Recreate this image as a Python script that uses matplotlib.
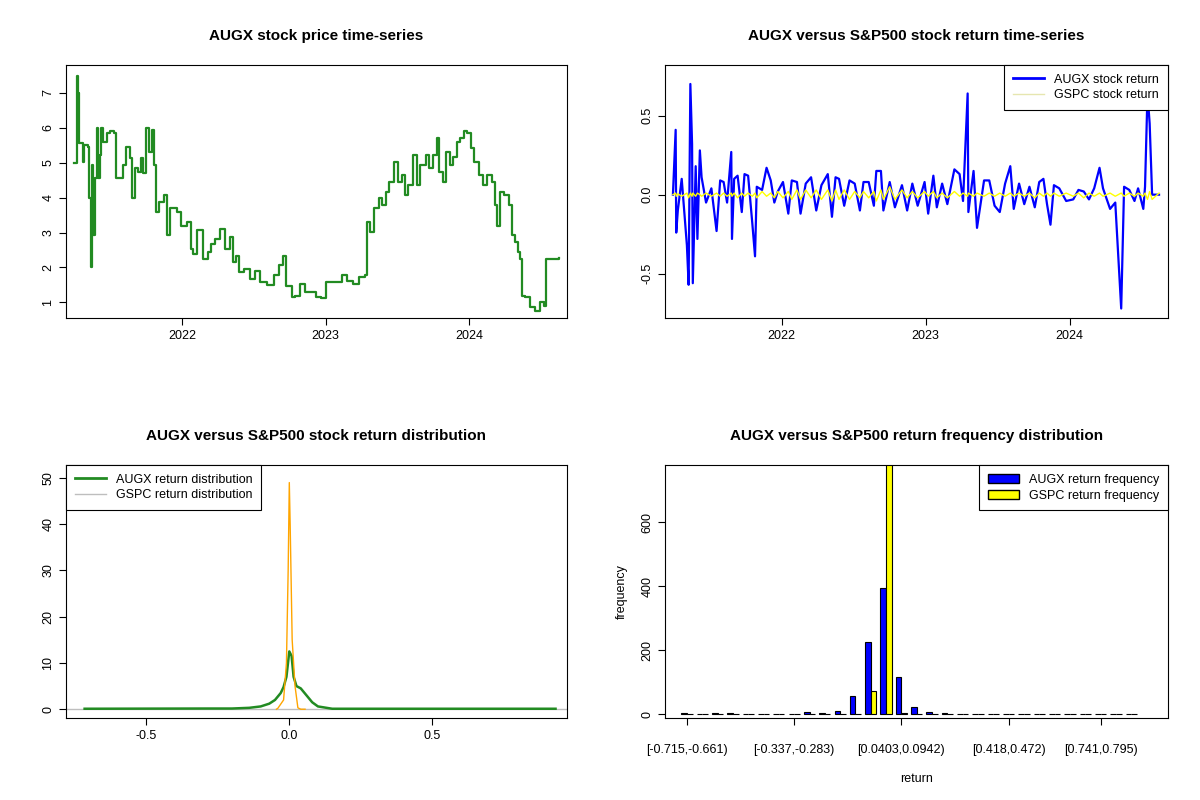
import matplotlib
matplotlib.use("Agg")
import matplotlib.pyplot as plt
import matplotlib.dates as mdates
import numpy as np
import pandas as pd
from matplotlib.patches import Patch
from matplotlib.lines import Line2D

plt.rcParams['font.family'] = ['Liberation Sans', 'DejaVu Sans']

# ---- data ----
price_t = [2021.245, 2021.264, 2021.274, 2021.279, 2021.306, 2021.318, 2021.342, 2021.347, 2021.361, 2021.371,
           2021.381, 2021.391, 2021.403, 2021.415, 2021.427, 2021.434, 2021.451, 2021.475, 2021.500, 2021.524,
           2021.541, 2021.573, 2021.585, 2021.609, 2021.633, 2021.650, 2021.670, 2021.694, 2021.711, 2021.725,
           2021.750, 2021.767, 2021.786, 2021.803, 2021.818, 2021.840, 2021.871, 2021.893, 2021.912, 2021.937,
           2021.961, 2021.992, 2022.034, 2022.058, 2022.075, 2022.106, 2022.143, 2022.179, 2022.204, 2022.228,
           2022.264, 2022.301, 2022.330, 2022.354, 2022.378, 2022.398, 2022.434, 2022.471, 2022.507, 2022.543,
           2022.592, 2022.640, 2022.677, 2022.701, 2022.725, 2022.762, 2022.786, 2022.822, 2022.859, 2022.895,
           2022.932, 2022.968, 2023.000, 2023.041, 2023.077, 2023.114, 2023.150, 2023.191, 2023.235, 2023.271,
           2023.291, 2023.308, 2023.337, 2023.369, 2023.393, 2023.417, 2023.441, 2023.478, 2023.502, 2023.531,
           2023.551, 2023.575, 2023.611, 2023.635, 2023.660, 2023.696, 2023.720, 2023.745, 2023.774, 2023.793,
           2023.817, 2023.842, 2023.866, 2023.890, 2023.915, 2023.939, 2023.963, 2023.987, 2024.012, 2024.036,
           2024.065, 2024.097, 2024.121, 2024.157, 2024.177, 2024.194, 2024.211, 2024.242, 2024.279, 2024.298,
           2024.322, 2024.339, 2024.356, 2024.364, 2024.388, 2024.424, 2024.456, 2024.492, 2024.521, 2024.533,
           2024.582, 2024.623]
price = [5.0, 7.48, 7.0, 5.56, 5.03, 5.5, 5.46, 3.98, 2.0, 4.93,
         2.92, 4.55, 6.0, 4.55, 5.22, 6.0, 5.6, 5.85, 5.9, 5.85,
         4.55, 4.55, 4.94, 5.46, 5.13, 3.98, 4.84, 4.74, 5.13, 4.7,
         6.0, 5.32, 5.94, 4.94, 3.6, 3.88, 4.07, 2.92, 3.69, 3.69,
         3.6, 3.2, 3.3, 2.54, 2.39, 3.06, 2.25, 2.44, 2.68, 2.82,
         3.11, 2.54, 2.87, 2.15, 2.34, 1.86, 1.96, 1.67, 1.91, 1.58,
         1.5, 1.77, 2.06, 2.34, 1.48, 1.14, 1.19, 1.53, 1.29, 1.29,
         1.14, 1.12, 1.58, 1.58, 1.58, 1.77, 1.62, 1.53, 1.72, 1.77,
         3.3, 3.02, 3.69, 3.98, 3.78, 4.17, 4.45, 5.03, 4.45, 4.65,
         4.07, 4.36, 5.22, 4.36, 4.94, 5.22, 4.84, 5.22, 5.7, 4.74,
         4.45, 5.32, 4.94, 5.17, 5.6, 5.7, 5.9, 5.85, 5.41, 5.03,
         4.65, 4.36, 4.65, 4.45, 3.78, 3.2, 4.17, 4.07, 3.78, 2.92,
         2.73, 2.44, 2.25, 1.19, 1.14, 0.86, 0.76, 1.0, 0.9, 2.25,
         2.25, 2.27]

# (decimal year, AUGX return, GSPC return)
returns = [
    (2021.245, 0.0, 0.0), (2021.264, 0.41, 0.01), (2021.268, -0.24, -0.01), (2021.279, -0.10, 0.005),
    (2021.306, 0.10, -0.01), (2021.342, -0.32, 0.01), (2021.354, -0.57, -0.02), (2021.366, 0.70, 0.01),
    (2021.378, 0.32, -0.01), (2021.383, -0.56, 0.01), (2021.403, 0.18, -0.01), (2021.415, -0.28, 0.01),
    (2021.432, 0.28, 0.0), (2021.444, 0.11, -0.01), (2021.475, -0.05, 0.01), (2021.512, 0.04, -0.01),
    (2021.548, -0.23, 0.01), (2021.573, 0.09, -0.01), (2021.597, 0.08, 0.01), (2021.621, -0.05, -0.01),
    (2021.650, 0.27, 0.01), (2021.655, -0.28, -0.01), (2021.670, 0.10, 0.01), (2021.694, 0.12, -0.02),
    (2021.723, -0.11, 0.01), (2021.742, 0.13, -0.01), (2021.767, 0.12, 0.01), (2021.796, -0.18, -0.01),
    (2021.815, -0.39, 0.01), (2021.827, 0.05, -0.02), (2021.864, 0.03, 0.02), (2021.895, 0.17, -0.01),
    (2021.924, 0.09, 0.01), (2021.949, -0.05, -0.02), (2021.973, 0.02, 0.02), (2022.009, 0.08, -0.02),
    (2022.046, -0.12, 0.02), (2022.070, 0.09, -0.03), (2022.106, 0.08, 0.03), (2022.131, -0.12, -0.03),
    (2022.167, 0.07, 0.03), (2022.204, 0.11, -0.02), (2022.240, -0.10, 0.03), (2022.276, 0.06, -0.03),
    (2022.320, 0.13, 0.03), (2022.349, -0.14, -0.04), (2022.374, 0.11, 0.03), (2022.398, 0.10, -0.03),
    (2022.434, -0.07, 0.03), (2022.471, 0.09, -0.03), (2022.507, 0.07, 0.02), (2022.543, -0.10, -0.02),
    (2022.568, 0.08, 0.02), (2022.604, 0.08, -0.02), (2022.640, -0.07, 0.02), (2022.657, 0.15, -0.04),
    (2022.689, 0.15, 0.03), (2022.706, -0.10, -0.03), (2022.750, 0.08, 0.05), (2022.786, -0.08, -0.03),
    (2022.835, 0.06, 0.03), (2022.871, -0.10, -0.02), (2022.907, 0.07, 0.02), (2022.944, -0.07, -0.02),
    (2022.992, 0.08, 0.02), (2023.017, -0.12, -0.01), (2023.053, 0.12, 0.02), (2023.077, -0.08, -0.02),
    (2023.114, 0.07, 0.01), (2023.150, -0.06, -0.02), (2023.199, 0.16, 0.02), (2023.235, 0.13, -0.01),
    (2023.259, -0.04, 0.01), (2023.291, 0.64, -0.01), (2023.296, -0.11, 0.01), (2023.332, 0.15, -0.01),
    (2023.356, -0.21, 0.01), (2023.405, 0.09, -0.01), (2023.441, 0.09, 0.01), (2023.478, -0.07, -0.01),
    (2023.514, -0.11, 0.01), (2023.551, 0.07, -0.01), (2023.587, 0.18, 0.01), (2023.611, -0.09, -0.01),
    (2023.648, 0.07, 0.01), (2023.684, -0.06, -0.01), (2023.720, 0.05, 0.01), (2023.757, -0.08, -0.02),
    (2023.788, 0.08, 0.01), (2023.817, 0.10, -0.01), (2023.842, -0.06, 0.01), (2023.866, -0.19, -0.01),
    (2023.890, 0.06, 0.01), (2023.927, 0.04, -0.01), (2023.975, -0.04, 0.01), (2024.024, -0.03, -0.01),
    (2024.060, 0.03, 0.01), (2024.097, 0.02, -0.02), (2024.133, -0.03, 0.01), (2024.169, 0.04, -0.01),
    (2024.206, 0.17, 0.01), (2024.230, 0.04, -0.01), (2024.279, -0.09, 0.01), (2024.315, -0.05, -0.01),
    (2024.356, -0.72, 0.01), (2024.376, 0.05, -0.01), (2024.412, 0.03, 0.01), (2024.448, -0.04, -0.01),
    (2024.473, 0.04, 0.01), (2024.509, -0.09, -0.01), (2024.521, 0.05, 0.01), (2024.538, 0.64, -0.03),
    (2024.553, 0.45, 0.02), (2024.570, 0.0, -0.03), (2024.618, 0.0, 0.01),
]

dens_x_augx = [-0.715, -0.28, -0.2, -0.14, -0.10, -0.07, -0.05, -0.03, -0.02, -0.01, 0.0, 0.008, 0.015,
               0.025, 0.04, 0.06, 0.08, 0.10, 0.13, 0.15, 0.27, 0.93]
dens_y_augx = [0.1, 0.15, 0.15, 0.3, 0.6, 1.2, 2.0, 3.5, 4.8, 7.0, 12.5, 11.5, 7.0,
               5.0, 4.5, 3.0, 1.5, 0.6, 0.3, 0.1, 0.1, 0.1]
dens_x_gspc = [-0.045, -0.04, -0.02, -0.01, -0.004, 0.0, 0.003, 0.01, 0.02, 0.03, 0.04, 0.055]
dens_y_gspc = [0.0, 0.2, 2.0, 10.0, 30.0, 49.0, 40.0, 15.0, 5.0, 0.3, 0.0, 0.0]

hist_augx = [3, 0, 3, 3, 0, 0, 2, 2, 6, 5, 9, 58, 225, 393, 117, 22, 6, 3, 2, 2, 2, 0, 0, 0, 0, 2, 2, 0, 0, 0]
hist_gspc = [0, 0, 0, 0, 0, 0, 0, 0, 0, 0, 0, 0, 73, 850, 3, 0, 0, 0, 0, 0, 0, 0, 0, 0, 0, 0, 0, 0, 0, 0]
hist_label_idx = [0, 7, 14, 21, 27]
hist_labels = ["[-0.715,-0.661)", "[-0.337,-0.283)", "[0.0403,0.0942)", "[0.418,0.472)", "[0.741,0.795)"]


def to_dt(y):
    y0 = int(np.floor(y))
    start = pd.Timestamp(year=y0, month=1, day=1)
    end = pd.Timestamp(year=y0 + 1, month=1, day=1)
    return start + (end - start) * (y - y0)


fig = plt.figure(figsize=(12, 8), dpi=100)
W, H = 1200, 800


def ax_at(l, r, t, b):
    return fig.add_axes([l / W, 1 - b / H, (r - l) / W, (b - t) / H])


def r_style(ax):
    for s in ax.spines.values():
        s.set_linewidth(0.8)
    ax.tick_params(labelsize=9, length=5, width=0.8)
    for lab in ax.get_yticklabels():
        lab.set_rotation(90)
        lab.set_va('center')


def leg(ax, handles, labels, loc):
    lg = ax.legend(handles, labels, loc=loc, fancybox=False, edgecolor='black', framealpha=1,
                   fontsize=9, borderaxespad=0, handlelength=2.5, borderpad=0.7, labelspacing=0.3)
    lg.get_frame().set_linewidth(0.8)


loc_years = mdates.YearLocator()
fmt_years = mdates.DateFormatter('%Y')
xlim_dates = (to_dt(2021.19), to_dt(2024.68))

# Panel 1: price
ax1 = ax_at(66, 567, 65, 318)
pt = [to_dt(v) for v in price_t]
ax1.step(pt, price, where='post', color='#228B22', lw=1.6)
ax1.set_xlim(*xlim_dates)
ax1.set_ylim(0.55, 7.8)
ax1.set_yticks([1, 2, 3, 4, 5, 6, 7])
ax1.xaxis.set_major_locator(loc_years)
ax1.xaxis.set_major_formatter(fmt_years)
ax1.set_title("AUGX stock price time-series", fontsize=11, fontweight='bold', pad=18)
r_style(ax1)

# Panel 2: returns
ax2 = ax_at(665, 1168, 65, 318)
rt = [to_dt(r[0]) for r in returns]
ra = [r[1] for r in returns]
rg = [r[2] for r in returns]
ax2.plot(rt, ra, color='blue', lw=1.6)
ax2.plot(rt, rg, color='yellow', lw=1)
ax2.set_xlim(*xlim_dates)
ax2.set_ylim(-0.78, 0.82)
ax2.set_yticks([-0.5, 0.0, 0.5])
ax2.set_yticklabels(["-0.5", "0.0", "0.5"])
ax2.xaxis.set_major_locator(loc_years)
ax2.xaxis.set_major_formatter(fmt_years)
ax2.set_title("AUGX versus S&P500 stock return time-series", fontsize=11, fontweight='bold', pad=18)
r_style(ax2)
leg(ax2, [Line2D([], [], color='blue', lw=2), Line2D([], [], color='#e6e6b0', lw=1)],
    ["AUGX stock return", "GSPC stock return"], 'upper right')

# Panel 3: density
ax3 = ax_at(66, 567, 465, 718)
ax3.axhline(0, color='#bebebe', lw=1)
ax3.plot(dens_x_augx, dens_y_augx, color='#228B22', lw=1.8)
ax3.plot(dens_x_gspc, dens_y_gspc, color='orange', lw=1)
ax3.set_xlim(-0.78, 0.97)
ax3.set_ylim(-1.9, 52.8)
ax3.set_xticks([-0.5, 0.0, 0.5])
ax3.set_xticklabels(["-0.5", "0.0", "0.5"])
ax3.set_yticks([0, 10, 20, 30, 40, 50])
ax3.set_title("AUGX versus S&P500 stock return distribution", fontsize=11, fontweight='bold', pad=18)
r_style(ax3)
leg(ax3, [Line2D([], [], color='#228B22', lw=2), Line2D([], [], color='#bebebe', lw=1)],
    ["AUGX return distribution", "GSPC return distribution"], 'upper left')

# Panel 4: histogram
ax4 = ax_at(665, 1168, 465, 718)
idx = np.arange(len(hist_augx))
centers = 3 * idx + 2
ax4.bar(centers - 0.55, hist_augx, width=1.1, color='blue', edgecolor='black', lw=0.8)
ax4.bar(centers + 0.55, hist_gspc, width=1.1, color='yellow', edgecolor='black', lw=0.8)
ax4.set_xlim(-2.3, 96.2)
ax4.set_ylim(-12, 778)
ax4.set_yticks([0, 200, 400, 600])
ax4.set_xticks(centers[hist_label_idx])
ax4.set_xticklabels(hist_labels)
ax4.tick_params(axis='x', length=0, pad=14)
ax4.set_xlabel("return", fontsize=9, labelpad=12)
ax4.set_ylabel("frequency", fontsize=9, labelpad=10)
ax4.set_title("AUGX versus S&P500 return frequency distribution", fontsize=11, fontweight='bold', pad=18)
r_style(ax4)
leg(ax4, [Patch(facecolor='blue', edgecolor='black'), Patch(facecolor='yellow', edgecolor='black')],
    ["AUGX return frequency", "GSPC return frequency"], 'upper right')

fig.savefig("out.png", dpi=100)
